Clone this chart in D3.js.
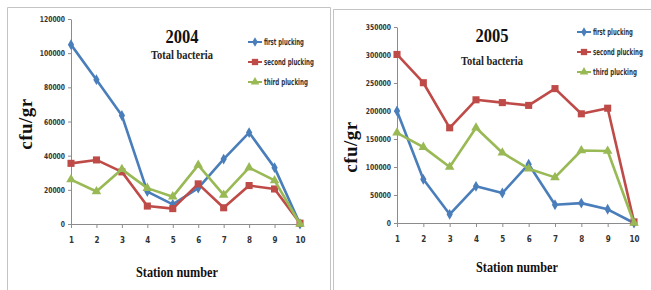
<!DOCTYPE html>
<html>
<head>
<meta charset="utf-8">
<script src="https://cdn.jsdelivr.net/npm/d3@7"></script>
<style>
  body { margin: 0; background: #fff; }
  svg { display: block; }
</style>
</head>
<body>
<div class="container"></div>
<script>
// stations 1..10
const stations = [1, 2, 3, 4, 5, 6, 7, 8, 9, 10];
const seriesNames = ["first plucking", "second plucking", "third plucking"];

// 2004 total bacteria (cfu/gr)
const first2004 = [105000, 84500, 63500, 19000, 11500, 21000, 38000, 53500, 33000, 0];
const second2004 = [35500, 37500, 30500, 10500, 9000, 23500, 9500, 22500, 20500, 500];
const third2004 = [26000, 19000, 32000, 21000, 16000, 34500, 17000, 33000, 25500, 0];
const ticks2004 = [0, 20000, 40000, 60000, 80000, 100000, 120000];

// 2005 total bacteria (cfu/gr)
const first2005 = [200000, 78000, 15500, 65500, 53500, 105000, 32500, 35500, 24500, 0];
const second2005 = [301000, 250500, 170000, 220000, 215000, 210000, 240000, 195000, 205000, 2000];
const third2005 = [161000, 135500, 100000, 170000, 125500, 97000, 81500, 129500, 128500, 0];
const ticks2005 = [0, 50000, 100000, 150000, 200000, 250000, 300000, 350000];

const colors = ["#4a7ebb", "#be4b48", "#98b954"];
const symbols = [d3.symbolDiamond, d3.symbolSquare, d3.symbolTriangle];
const symSize = [34, 50, 40];
const legendWidths = [40, 50, 44]; // width of the condensed legend labels

const W = 651, H = 290;
const smallFont = "'Liberation Sans Narrow', 'DejaVu Sans Condensed', sans-serif";
const serif = "'Liberation Serif', 'DejaVu Serif', serif";

const svg = d3.select(".container").append("svg")
  .attr("width", W).attr("height", H);

// squeeze a text horizontally to a given width (the source uses condensed fonts)
function squeeze(text, width, anchor) {
  const w = text.node().getComputedTextLength();
  const sx = Math.min(1, width / w);
  const x = +text.attr("x") || 0;
  const ox = anchor === "middle" ? x : x;
  text.attr("transform", `translate(${ox},0) scale(${sx},1) translate(${-ox},0)`);
}

// panel frames
const frame = svg.append("g").attr("fill", "none").attr("stroke", "#c4c4c4").attr("stroke-width", 1);
frame.append("path").attr("d", "M7.5,290V7.5H330.5V290");
frame.append("path").attr("d", "M333.5,290V9.5H651");

function drawPanel(p) {
  const g = svg.append("g");
  const x = d3.scalePoint().domain(stations).range([p.x0, p.x1]);
  const y = d3.scaleLinear().domain([0, p.ticks[p.ticks.length - 1]]).range([p.y0, p.y1]);

  const xAxis = g.append("g")
    .attr("transform", `translate(0,${p.y0})`)
    .call(d3.axisBottom(x).tickSize(4).tickSizeOuter(0).tickPadding(9));
  const yAxis = g.append("g")
    .attr("transform", `translate(${p.x0},0)`)
    .call(d3.axisLeft(y).tickValues(p.ticks).tickFormat(d3.format("d")).tickSize(3).tickSizeOuter(0).tickPadding(3));
  [xAxis, yAxis].forEach(a => {
    a.select(".domain").attr("stroke", "#8c8c8c");
    a.selectAll(".tick line").attr("stroke", "#8c8c8c");
    a.selectAll(".tick text")
      .attr("fill", "#333")
      .style("font", `bold 8px ${smallFont}`);
  });
  yAxis.selectAll(".tick text").each(function (d) {
    const t = d3.select(this);
    const w = this.getComputedTextLength();
    const sx = Math.min(1, String(d).length * 4.2 / w);
    t.attr("transform", `translate(-6,0) scale(${sx},1) translate(6,0)`);
  });

  const line = d3.line().x((d, i) => x(stations[i])).y(d => y(d));
  p.series.forEach((s, k) => {
    g.append("path")
      .attr("d", line(s))
      .attr("fill", "none")
      .attr("stroke", colors[k])
      .attr("stroke-width", 2.6)
      .attr("stroke-linejoin", "round");
    g.append("g").selectAll("path")
      .data(s)
      .join("path")
      .attr("transform", (d, i) => `translate(${x(stations[i])},${y(d)})`)
      .attr("d", d3.symbol(symbols[k], symSize[k]))
      .attr("fill", colors[k]);
  });

  // titles
  const yr = g.append("text")
    .attr("x", p.titleX).attr("y", p.titleY)
    .attr("text-anchor", "middle")
    .style("font", `bold 19px ${serif}`)
    .attr("fill", "#111")
    .text(p.year);
  squeeze(yr, 33, "middle");
  const sub = g.append("text")
    .attr("x", p.titleX).attr("y", p.subY)
    .attr("text-anchor", "middle")
    .style("font", `bold 11.5px ${serif}`)
    .attr("fill", "#222")
    .text("Total bacteria");
  squeeze(sub, 62, "middle");

  // axis titles
  g.append("text")
    .attr("transform", `translate(${p.ylabX},${p.ylabY}) rotate(-90)`)
    .attr("text-anchor", "middle")
    .style("font", `bold 19px ${serif}`)
    .attr("letter-spacing", "0.5px")
    .attr("fill", "#111")
    .text("cfu/gr");
  const xl = g.append("text")
    .attr("x", p.xlabX).attr("y", p.xlabY)
    .attr("text-anchor", "middle")
    .style("font", `bold 15px ${serif}`)
    .attr("fill", "#111")
    .text("Station number");
  squeeze(xl, 82, "middle");

  // legend
  const leg = g.append("g").attr("transform", `translate(${p.legX},${p.legY})`);
  seriesNames.forEach((name, k) => {
    const r = leg.append("g").attr("transform", `translate(0,${k * 20})`);
    r.append("line").attr("x1", 0).attr("x2", 14)
      .attr("stroke", colors[k]).attr("stroke-width", 2);
    r.append("path").attr("transform", "translate(7,0)")
      .attr("d", d3.symbol(symbols[k], symSize[k] * 0.8))
      .attr("fill", colors[k]);
    const t = r.append("text").attr("x", 16).attr("dy", "0.35em")
      .style("font", `bold 9px ${smallFont}`)
      .attr("fill", "#333")
      .text(name);
    squeeze(t, legendWidths[k], "start");
  });
}

drawPanel({
  year: "2004", series: [first2004, second2004, third2004], ticks: ticks2004,
  x0: 71, x1: 300, y0: 224, y1: 19,
  titleX: 182, titleY: 43, subY: 59,
  ylabX: 32, ylabY: 124, xlabX: 177, xlabY: 277,
  legX: 248, legY: 42
});
drawPanel({
  year: "2005", series: [first2005, second2005, third2005], ticks: ticks2005,
  x0: 397, x1: 634, y0: 223, y1: 27,
  titleX: 492, titleY: 42, subY: 65,
  ylabX: 357, ylabY: 147, xlabX: 517, xlabY: 272,
  legX: 577, legY: 32
});
</script>
</body>
</html>
